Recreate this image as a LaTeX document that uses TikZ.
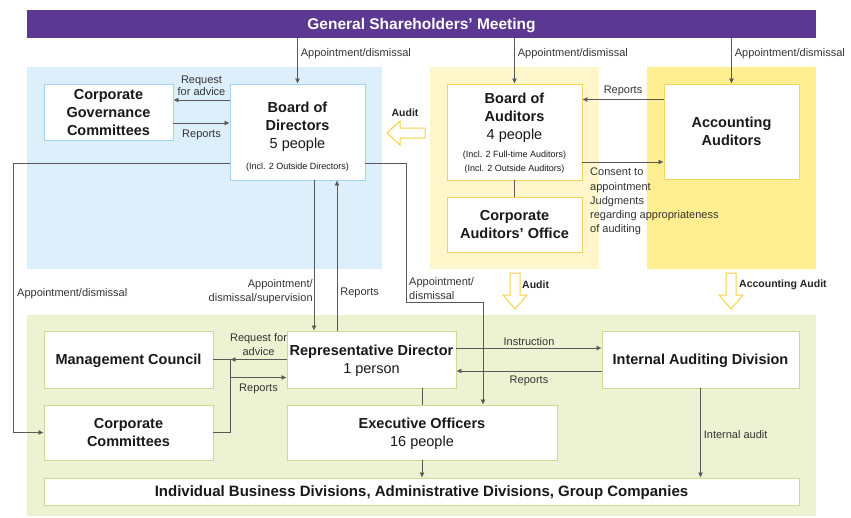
\documentclass[tikz,border=0pt]{standalone}
\usepackage{fontspec}
\setmainfont{Liberation Sans}
\usetikzlibrary{arrows.meta,positioning}
\definecolor{gsmpurple}{RGB}{91,56,145}
\definecolor{bluearea}{RGB}{221,239,250}
\definecolor{blueline}{RGB}{166,211,240}
\definecolor{paleyellow}{RGB}{255,246,204}
\definecolor{brightyellow}{RGB}{255,238,146}
\definecolor{yellowline}{RGB}{244,212,92}
\definecolor{greenarea}{RGB}{237,243,210}
\definecolor{greenline}{RGB}{200,220,146}
\definecolor{auditline}{RGB}{245,210,70}
\tikzset{>={Latex[length=5pt,width=5pt]}}

\begin{document}
\begin{tikzpicture}[x=1pt,y=-1pt,
    box/.style={draw=#1,fill=white,line width=0.9pt,align=center,inner sep=0pt,text depth=0pt,
      text=black!90,font=\fontsize{14.5}{18}\selectfont},
    conn/.style={draw=black!65,line width=0.7pt},
    lbl/.style={font=\fontsize{11}{13}\selectfont,text=black!80,inner sep=1pt},
    auditlbl/.style={font=\fontsize{10.5}{12.5}\selectfont\bfseries,text=black!85,inner sep=1pt},
    hollow/.style={draw=auditline,fill=white,line width=1pt}]
    \useasboundingbox (0,0) rectangle (851,517);

    % background areas
    \fill[bluearea] (27,67) rectangle (382,269);
    \fill[paleyellow] (430,67) rectangle (599,269);
    \fill[brightyellow] (647,67) rectangle (816,269);
    \fill[greenarea] (27,315) rectangle (816,516);

    % boxes
    \node[fill=gsmpurple,text=white,minimum width=789pt,minimum height=28pt,inner sep=0pt,text depth=0pt,
      font=\fontsize{15.5}{18}\selectfont\bfseries] (gsm) at (421.5,24) {General Shareholders' Meeting};
    \node[box=blueline,minimum width=129pt,minimum height=56pt] (cgc) at (108.5,112)
      {\textbf{Corporate}\\\textbf{Governance}\\\textbf{Committees}};
    \node[box=blueline,minimum width=135pt,minimum height=96pt] (bod) at (297.5,132)
      {\rule{0pt}{18pt}\textbf{Board of}\\\textbf{Directors}\\5 people\\[3pt]{\fontsize{9}{11}\selectfont (Incl. 2 Outside Directors)}};
    \node[box=yellowline,minimum width=135pt,minimum height=96pt] (boa) at (514.5,132)
      {\textbf{Board of}\\\textbf{Auditors}\\4 people\\{\fontsize{9}{11}\selectfont (Incl. 2 Full-time Auditors)}\\[-4pt]{\fontsize{9}{11}\selectfont (Incl. 2 Outside Auditors)}};
    \node[box=yellowline,minimum width=135pt,minimum height=55pt] (cao) at (514.5,224.5)
      {\textbf{Corporate}\\\textbf{Auditors' Office}};
    \node[box=yellowline,minimum width=135pt,minimum height=95pt] (aa) at (731.5,131.5)
      {\textbf{Accounting}\\\textbf{Auditors}};
    \node[box=greenline,minimum width=169pt,minimum height=57pt] (mc) at (128.5,359.5)
      {\textbf{Management Council}};
    \node[box=greenline,minimum width=169pt,minimum height=55pt] (cc) at (128.5,432.5)
      {\textbf{Corporate}\\\textbf{Committees}};
    \node[box=greenline,minimum width=169pt,minimum height=57pt] (rd) at (371.5,359.5)
      {\textbf{Representative Director}\\1 person};
    \node[box=greenline,minimum width=270pt,minimum height=55pt] (eo) at (422,432.5)
      {\textbf{Executive Officers}\\16 people};
    \node[box=greenline,minimum width=197pt,minimum height=57pt] (iad) at (700.5,359.5)
      {\textbf{Internal Auditing Division}};
    \node[box=greenline,minimum width=755pt,minimum height=27pt,font=\fontsize{15}{18}\selectfont\bfseries] (ind) at (421.5,491.5)
      {Individual Business Divisions, Administrative Divisions, Group Companies};

    % shareholders' meeting
    \draw[conn,->] (bod.north |- gsm.south) -- (bod.north)
      node[lbl,right,pos=0.33,xshift=2pt] {Appointment/dismissal};
    \draw[conn,->] (boa.north |- gsm.south) -- (boa.north)
      node[lbl,right,pos=0.33,xshift=2pt] {Appointment/dismissal};
    \draw[conn,->] (aa.north |- gsm.south) -- (aa.north)
      node[lbl,right,pos=0.33,xshift=2pt] {Appointment/dismissal};

    % board of directors
    \coordinate (bodreq) at ([yshift=32pt]bod.west);
    \coordinate (bodrpt) at ([yshift=9pt]bod.west);
    \draw[conn,->] (bodreq) -- (bodreq -| cgc.east)
      node[lbl,above,midway,yshift=3pt,align=center,font=\fontsize{11}{12}\selectfont] {Request\\for advice};
    \draw[conn,->] (bodrpt -| cgc.east) -- (bodrpt)
      node[lbl,below,midway,yshift=-6pt] {Reports};

    % board of auditors and accounting auditors
    \coordinate (aarpt) at ([yshift=32pt]aa.west);
    \coordinate (boacon) at ([yshift=-30pt]boa.east);
    \draw[conn,->] (aarpt) -- (aarpt -| boa.east)
      node[lbl,above,midway,yshift=2pt] {Reports};
    \draw[conn,->] (boacon) -- (boacon -| aa.west);
    \node[lbl,anchor=north west,align=left,font=\fontsize{11}{14.2}\selectfont] (conslbl) at (589,167)
      {Consent to\\appointment\\Judgments\\regarding appropriateness\\of auditing};
    \draw[conn] (boa) -- (cao);

    % audit arrows
    \draw[hollow] (387,133) -- (400,121) -- (400,128) -- (425,128) -- (425,138) -- (400,138) -- (400,145) -- cycle;
    \node[auditlbl] (auditl) at (405,113) {Audit};
    \foreach \ax in {515,731}
      \draw[hollow] (\ax,309) -- (\ax-12,295) -- (\ax-5,295) -- (\ax-5,273) -- (\ax+5,273) -- (\ax+5,295) -- (\ax+12,295) -- cycle;
    \node[auditlbl,anchor=west] (auditb) at (521,285) {Audit};
    \node[auditlbl,anchor=west] (auditacc) at (738,285) {Accounting Audit};

    % board of directors to executive side
    \coordinate (bodsup) at ([xshift=16.5pt]bod.south);
    \coordinate (rdrpt) at ([xshift=39.5pt]bod.south);
    \draw[conn,->] (bodsup) -- (bodsup |- rd.north)
      node[lbl,left,pos=0.74,align=right,font=\fontsize{11}{14.5}\selectfont] {Appointment/\\dismissal/supervision};
    \draw[conn,->] (rdrpt |- rd.north) -- (rdrpt)
      node[lbl,right,pos=0.25,xshift=2pt] {Reports};
    \coordinate (bodcc) at ([yshift=-31pt]bod.west);
    \coordinate (ccin) at ([xshift=-30pt]cc.west);
    \draw[conn,->] (bodcc) -| (ccin) -- (cc.west);
    \node[lbl,anchor=west] (ccapp) at (16,294) {Appointment/dismissal};
    \coordinate (bodeo) at ([yshift=-31pt]bod.east);
    \coordinate (eoin) at ([xshift=61pt]eo.north);
    \draw[conn,->] (bodeo) -| (406,302) -| (eoin);
    \node[lbl,anchor=west,align=left,font=\fontsize{11}{14}\selectfont] (eoapp) at (408,289) {Appointment/\\dismissal};

    % executive side
    \coordinate (brk) at ([xshift=17pt]mc.east);
    \draw[conn] (mc.east) -| (brk |- cc.east) -- (cc.east);
    \coordinate (rdrep) at ([yshift=-18pt]rd.west);
    \draw[conn,->] (rd.west) -- (rd.west -| brk)
      node[lbl,above,midway,yshift=3pt,align=center,font=\fontsize{11}{13.5}\selectfont] {Request for\\advice};
    \draw[conn,->] (rdrep -| brk) -- (rdrep)
      node[lbl,below,midway,yshift=-5pt] {Reports};
    \coordinate (rdins) at ([yshift=11.5pt]rd.east);
    \coordinate (rdback) at ([yshift=-11.5pt]rd.east);
    \draw[conn,->] (rdins) -- (rdins -| iad.west)
      node[lbl,above,pos=0.5,yshift=1pt] {Instruction};
    \draw[conn,->] (rdback -| iad.west) -- (rdback)
      node[lbl,below,pos=0.5,yshift=-4pt] {Reports};
    \draw[conn] (eo.north |- rd.south) -- (eo.north);
    \draw[conn,->] (eo.south) -- (eo.south |- ind.north);
    \draw[conn,->] (iad.south) -- (iad.south |- ind.north)
      node[lbl,right,midway,xshift=2pt,yshift=-2pt] {Internal audit};
\end{tikzpicture}
\end{document}
